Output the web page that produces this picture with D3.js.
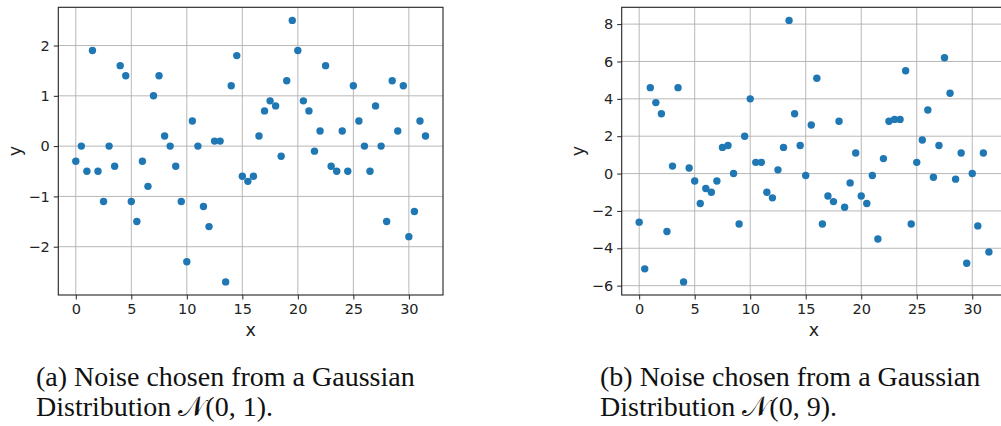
<!DOCTYPE html>
<html>
<head>
<meta charset="utf-8">
<script src="https://cdn.jsdelivr.net/npm/d3@7"></script>
<style>
  html, body { margin: 0; padding: 0; background: #fff; }
  svg { display: block; }
</style>
</head>
<body>
<svg id="chart" width="1001" height="426"></svg>
<script>
// ---- data ----
const xValues = d3.range(64).map(i => i * 0.5); // 0, 0.5, ..., 31.5
const noiseA = [-0.3, 0, -0.5, 1.9, -0.5, -1.1, 0, -0.4, 1.6, 1.4, -1.1, -1.5, -0.3, -0.8, 1.0, 1.4,
  0.2, 0, -0.4, -1.1, -2.3, 0.5, 0, -1.2, -1.6, 0.1, 0.1, -2.7, 1.2, 1.8, -0.6, -0.7,
  -0.6, 0.2, 0.7, 0.9, 0.8, -0.2, 1.3, 2.5, 1.9, 0.9, 0.7, -0.1, 0.3, 1.6, -0.4, -0.5,
  0.3, -0.5, 1.2, 0.5, 0, -0.5, 0.8, 0, -1.5, 1.3, 0.3, 1.2, -1.8, -1.3, 0.5, 0.2];
const noiseB = [-2.6, -5.1, 4.6, 3.8, 3.2, -3.1, 0.4, 4.6, -5.8, 0.3, -0.4, -1.6, -0.8, -1.0, -0.4, 1.4,
  1.5, 0, -2.7, 2.0, 4.0, 0.6, 0.6, -1.0, -1.3, 0.2, 1.4, 8.2, 3.2, 1.5, -0.1, 2.6,
  5.1, -2.7, -1.2, -1.5, 2.8, -1.8, -0.5, 1.1, -1.2, -1.6, -0.1, -3.5, 0.8, 2.8, 2.9, 2.9,
  5.5, -2.7, 0.6, 1.8, 3.4, -0.2, 1.5, 6.2, 4.3, -0.3, 1.1, -4.8, 0, -2.8, 1.1, -4.2];
const xTicks = [0, 5, 10, 15, 20, 25, 30];
const yTicksA = [-2, -1, 0, 1, 2];
const yTicksB = [-6, -4, -2, 0, 2, 4, 6, 8];
const captionA = ["(a) Noise chosen from a Gaussian", "Distribution \u{1D4A9}(0, 1)."];
const captionB = ["(b) Noise chosen from a Gaussian", "Distribution \u{1D4A9}(0, 9)."];

const svg = d3.select("#chart");
const fmt = v => (v < 0 ? "\u2212" + Math.abs(v) : String(v));

function padded(ext) {
  const m = (ext[1] - ext[0]) * 0.05;
  return [ext[0] - m, ext[1] + m];
}

function panel(opts) {
  const { left, top, width, height, ys, yTicks, yLabelX, caption, captionX } = opts;
  const g = svg.append("g");
  const x = d3.scaleLinear().domain(padded(d3.extent(xValues))).range([left, left + width]);
  const y = d3.scaleLinear().domain(padded(d3.extent(ys))).range([top + height, top]);
  const bottom = top + height;

  // grid
  g.append("g").selectAll("line").data(xTicks).join("line")
    .attr("x1", d => x(d)).attr("x2", d => x(d)).attr("y1", top).attr("y2", bottom)
    .attr("stroke", "#b0b0b0").attr("stroke-width", 0.9);
  g.append("g").selectAll("line").data(yTicks).join("line")
    .attr("y1", d => y(d)).attr("y2", d => y(d)).attr("x1", left).attr("x2", left + width)
    .attr("stroke", "#b0b0b0").attr("stroke-width", 0.9);

  // axes via d3
  const xAxis = d3.axisBottom(x).tickValues(xTicks).tickFormat(fmt).tickSize(4.5).tickPadding(4);
  const yAxis = d3.axisLeft(y).tickValues(yTicks).tickFormat(fmt).tickSize(4.5).tickPadding(4);
  const gx = g.append("g").attr("transform", `translate(0,${bottom})`).call(xAxis);
  const gy = g.append("g").attr("transform", `translate(${left},0)`).call(yAxis);
  [gx, gy].forEach(a => {
    a.select(".domain").remove();
    a.selectAll("line").attr("stroke", "#222").attr("stroke-width", 1);
    a.selectAll("text").attr("font-family", "DejaVu Sans").attr("font-size", "14.5px").attr("fill", "#222");
  });

  // frame
  g.append("rect").attr("x", left).attr("y", top).attr("width", width).attr("height", height)
    .attr("fill", "none").attr("stroke", "#222").attr("stroke-width", 1.1);

  // points
  g.append("g").selectAll("circle").data(xValues).join("circle")
    .attr("cx", d => x(d)).attr("cy", (d, i) => y(ys[i])).attr("r", 3.7)
    .attr("fill", "#1f77b4");

  // axis labels
  g.append("text").attr("x", x(0) + (x(31.5) - x(0)) / 2).attr("y", 336)
    .attr("text-anchor", "middle").attr("font-family", "DejaVu Sans").attr("font-size", "17.5px")
    .attr("fill", "#222").text("x");
  g.append("text").attr("transform", `translate(${yLabelX},${top + height / 2}) rotate(-90)`)
    .attr("text-anchor", "middle").attr("font-family", "DejaVu Sans").attr("font-size", "17.5px")
    .attr("fill", "#222").text("y");

  // caption
  const cap = g.append("text").attr("font-family", "Liberation Serif, DejaVu Serif, serif")
    .attr("font-size", "28px").attr("fill", "#111");
  caption.forEach((line, i) => {
    cap.append("tspan").attr("x", captionX).attr("y", 386 + i * 30).text(line);
  });
}

panel({ left: 58.3, top: 7.3, width: 384.7, height: 287.7, ys: noiseA, yTicks: yTicksA,
  yLabelX: 20.5, caption: captionA, captionX: 36 });
panel({ left: 621.7, top: 7.3, width: 384.7, height: 287.7, ys: noiseB, yTicks: yTicksB,
  yLabelX: 583.5, caption: captionB, captionX: 600 });
</script>
</body>
</html>
